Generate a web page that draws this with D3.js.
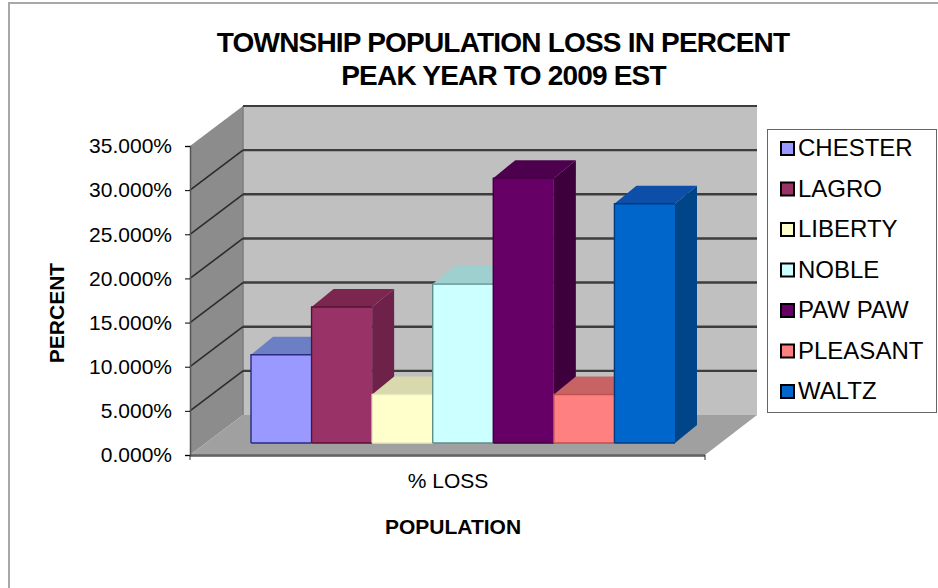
<!DOCTYPE html>
<html><head><meta charset="utf-8">
<script src="https://cdn.jsdelivr.net/npm/d3@7/dist/d3.min.js"></script>
<style>html,body{margin:0;background:#fff}svg{display:block}text{font-family:"Liberation Sans",Arial,sans-serif;fill:#000}</style>
</head><body><svg id="c" width="938" height="588"><defs><filter id="soft" x="-5%" y="-5%" width="110%" height="110%"><feGaussianBlur stdDeviation="0.6"/></filter></defs></svg>
<script>
const townships = ["CHESTER","LAGRO","LIBERTY","NOBLE","PAW PAW","PLEASANT","WALTZ"];
const lossPercent = [10,15.4,5.5,18,30,5.5,27.1];
const frontColors = ["#9999ff","#993366","#ffffcc","#ccffff","#660066","#ff8080","#0066cc"];
const topColors = ["#6b7fc4","#7a2850","#d9d9ae","#9fd0d0","#4d004d","#c86464","#0a50a8"];
const sideColors = ["#6b6bb3","#6e2048","#b3b38f","#8fb3b3","#3d003d","#b35a5a","#004488"];
const edgeColors = ["#2a2a80","#5a1035","#e8e8c0","#5f8f85","#3d003d","#c05050","#003a80"];
const yTicks = [0,5,10,15,20,25,30,35];
const categoryLabel = "% LOSS";

const root = d3.select("#c");
const y = d3.scaleLinear().domain([0,35]).range([455,146]);
const x = d3.scaleBand().domain(townships).range([251,675]).paddingInner(0);
const wallDx = 53, wallDy = -40, barDx = 22, barDy = -18, barBaseY = 12;
const barY = v => y(v) - barBaseY;
const fmt = v => d3.format(".3f")(v) + "%";
const x0 = 190, x1 = 705;

// frame (top and left edges only)
root.append("line").attr("x1",8).attr("x2",938).attr("y1",3).attr("y2",3).attr("stroke","#a8a8a8").attr("stroke-width",2);
root.append("line").attr("x1",9).attr("x2",9).attr("y1",2).attr("y2",588).attr("stroke","#a8a8a8").attr("stroke-width",2);

const svg = root.append("g").attr("filter","url(#soft)");
const poly = (pts, fill, stroke, sw) => svg.append("polygon")
  .attr("points", pts.map(p=>p.join(",")).join(" ")).attr("fill",fill)
  .attr("stroke",stroke||"none").attr("stroke-width",sw||0);

// walls
poly([[x0+wallDx,y(0)+wallDy],[x1+wallDx-1,y(0)+wallDy],[x1+wallDx-1,y(35)+wallDy],[x0+wallDx,y(35)+wallDy]],"#c0c0c0");
poly([[x0,y(0)],[x0+wallDx,y(0)+wallDy],[x0+wallDx,y(35)+wallDy],[x0,y(35)]],"#8c8c8c");
poly([[x0,y(0)],[x1,y(0)],[x1+wallDx-1,y(0)+wallDy],[x0+wallDx,y(0)+wallDy]],"#a0a0a0");
svg.append("line").attr("x1",x0).attr("x2",x1).attr("y1",y(0)+1).attr("y2",y(0)+1).attr("stroke","#555").attr("stroke-width",1.5);
svg.append("line").attr("x1",x0+wallDx).attr("x2",x0+wallDx).attr("y1",y(0)+wallDy).attr("y2",y(35)+wallDy).attr("stroke","#7c7c7c").attr("stroke-width",1.5);

// gridlines
yTicks.forEach(t=>{
  if(t>0) svg.append("line").attr("x1",x0+wallDx).attr("x2",x1+wallDx-1).attr("y1",y(t)+wallDy).attr("y2",y(t)+wallDy).attr("stroke","#3c3c3c").attr("stroke-width",t===35?1.8:2.4);
  if(t>0&&t<35) svg.append("line").attr("x1",x0).attr("x2",x0+wallDx).attr("y1",y(t)).attr("y2",y(t)+wallDy).attr("stroke","#2c2c2c").attr("stroke-width",1.6);
});

// bars
townships.forEach((n,i)=>{
  const l=x(n), r=l+x.bandwidth(), t=barY(lossPercent[i]), b=barY(0);
  poly([[r,t],[r+barDx,t+barDy],[r+barDx,b+barDy],[r,b]],sideColors[i]);
  poly([[l,t],[l+barDx,t+barDy],[r+barDx,t+barDy],[r,t]],topColors[i]);
});
townships.forEach((n,i)=>{
  const l=x(n), t=barY(lossPercent[i]), b=barY(0);
  svg.append("rect").attr("x",l).attr("y",t).attr("width",x.bandwidth()).attr("height",b-t).attr("fill",frontColors[i]);
});
townships.forEach((n,i)=>{
  const l=x(n), t=barY(lossPercent[i]), b=barY(0);
  svg.append("path").attr("d",`M${l},${b}V${t}H${l+x.bandwidth()}M${l},${b}H${l+x.bandwidth()}`).attr("fill","none").attr("stroke",edgeColors[i]).attr("stroke-width",1.4);
});

// axis
const axis = d3.axisLeft(y).tickValues(yTicks).tickFormat(fmt).tickSize(5).tickPadding(13);
const ag = root.append("g").attr("transform",`translate(${x0},0)`).call(axis);
ag.select(".domain").attr("stroke","#555").attr("stroke-width",1.5);
ag.selectAll("text").style("font-size","21px");
root.append("line").attr("x1",x0).attr("x2",x1).attr("y1",y(0)).attr("y2",y(0)).attr("stroke","#444");
root.append("line").attr("x1",x1).attr("x2",x1).attr("y1",y(0)).attr("y2",y(0)+5).attr("stroke","#333");
root.append("line").attr("x1",x0).attr("x2",x0).attr("y1",y(0)).attr("y2",y(0)+5).attr("stroke","#333");

// texts
const txt=(s,xx,yy,size,w,anchor)=>root.append("text").attr("x",xx).attr("y",yy).attr("text-anchor",anchor||"middle").attr("font-weight",w||400).style("font-size",size+"px").text(s);
txt("TOWNSHIP POPULATION LOSS IN PERCENT",503,52,28,700).style("letter-spacing","-0.8px");
txt("PEAK YEAR TO 2009 EST",503.5,85,28,700).style("letter-spacing","-0.8px");
txt(categoryLabel,448,488,21);
txt("POPULATION",453,534,21,700);
root.append("text").attr("transform","translate(64,313) rotate(-90)").attr("text-anchor","middle").attr("font-weight",700).style("font-size","21px").text("PERCENT");

// legend
root.append("rect").attr("x",767.5).attr("y",129.5).attr("width",169).attr("height",283).attr("fill","#fff").attr("stroke","#666");
const ly = d3.scalePoint().domain(townships).range([148,391]);
townships.forEach((n,i)=>{
  root.append("rect").attr("x",781).attr("y",ly(n)-6).attr("width",13).attr("height",13).attr("fill",frontColors[i]).attr("stroke","#000").attr("stroke-width",2);
  txt(n,798,ly(n)+8,24,400,"start");
});
</script></body></html>
